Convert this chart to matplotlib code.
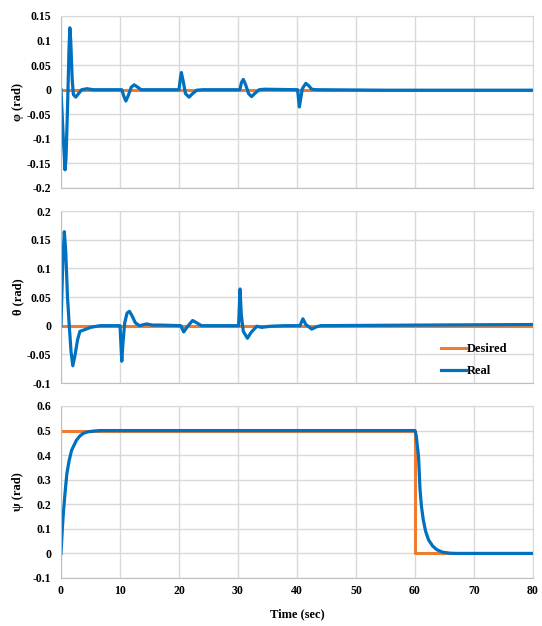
import matplotlib
matplotlib.use('Agg')
import matplotlib.pyplot as plt

plt.rcParams['font.family'] = ['Liberation Serif', 'DejaVu Serif']
plt.rcParams['font.weight'] = 'bold'

# phi (roll) response
phi_t = [0, 0.35, 0.68, 0.85, 1.1, 1.35, 1.5, 1.65, 1.9, 2.1, 2.5, 2.9, 3.5, 4.4, 5.5,
         10.3, 10.7, 11.0, 11.4, 11.9, 12.4, 12.9, 13.6,
         20.0, 20.2, 20.4, 20.7, 21.1, 21.7, 22.3, 23.0, 24.0,
         30.3, 30.6, 30.9, 31.3, 31.8, 32.3, 32.9, 33.6, 34.5,
         40.1, 40.25, 40.4, 40.6, 40.9, 41.5, 42.0, 42.5, 43.3,
         55, 80]
phi_real = [0, -0.09, -0.163, -0.14, -0.04, 0.08, 0.126, 0.10, 0.02, -0.010, -0.015, -0.009, 0.0, 0.002, 0.0,
            0.0, -0.015, -0.023, -0.012, 0.005, 0.010, 0.006, 0.0,
            0.0, 0.02, 0.035, 0.018, -0.008, -0.015, -0.008, -0.001, 0.0,
            0.0, 0.015, 0.021, 0.010, -0.008, -0.014, -0.007, 0.0, 0.001,
            0.0, -0.018, -0.035, -0.02, 0.002, 0.013, 0.008, 0.001, 0.0,
            -0.001, -0.001]

# theta (pitch) response
theta_t = [0, 0.3, 0.56, 0.8, 1.1, 1.4, 1.7, 2.0, 2.4, 2.8, 3.2, 4.0, 5.0, 6.6,
           10.0, 10.15, 10.3, 10.5, 10.8, 11.2, 11.6, 12.0, 12.6, 13.3, 14.5, 15.5, 17.0,
           20.3, 20.8, 21.4, 22.3, 23.0, 23.8,
           30.1, 30.35, 30.55, 30.9, 31.6, 32.2, 33.2, 34.0, 35.5, 38.0,
           40.5, 41.0, 41.5, 42.5, 43.3, 44.0,
           60, 80]
theta_real = [0, 0.11, 0.164, 0.13, 0.05, 0.0, -0.045, -0.070, -0.05, -0.025, -0.010, -0.007, -0.003, 0.0,
              0.0, -0.03, -0.062, -0.03, 0.005, 0.022, 0.025, 0.018, 0.005, 0.0, 0.003, 0.001, 0.001,
              0.0, -0.011, -0.002, 0.009, 0.005, 0.0,
              0.0, 0.064, 0.02, -0.01, -0.022, -0.012, -0.001, -0.003, -0.001, 0.0,
              0.0, 0.012, 0.002, -0.006, -0.002, 0.0,
              0.001, 0.002]

# psi (yaw) response
psi_t = [0, 0.2, 0.4, 0.7, 1.0, 1.4, 1.8, 2.1, 2.6, 3.2, 3.8, 4.6, 5.5, 6.6,
         60.0, 60.2, 60.6, 60.85, 61.1, 61.4, 61.8, 62.3, 63.0, 63.7, 64.7, 65.9, 67.0, 80]
psi_real = [0, 0.09, 0.165, 0.25, 0.326, 0.38, 0.42, 0.435, 0.46, 0.478, 0.489, 0.495, 0.498, 0.5,
            0.5, 0.48, 0.394, 0.26, 0.19, 0.137, 0.09, 0.055, 0.03, 0.015, 0.005, 0.001, 0.0, 0.0]
psi_des_t = [0, 60, 60, 80]
psi_des = [0.5, 0.5, 0, 0]

zero_t = [0, 80]
zero_des = [0, 0]

orange = '#ED7D31'
blue = '#0070C0'
grid_c = '#D9D9D9'

fig = plt.figure(figsize=(5.42, 6.26), dpi=100)
left, width, height = 61 / 542, 472 / 542, 172 / 626
bottoms = [1 - 188 / 626, 1 - 383 / 626, 1 - 578 / 626]

panels = [
    (phi_t, phi_real, zero_t, zero_des, (-0.2, 0.15), [-0.2, -0.15, -0.1, -0.05, 0, 0.05, 0.1, 0.15],
     ['-0.2', '-0.15', '-0.1', '-0.05', '0', '0.05', '0.1', '0.15'], 'φ (rad)'),
    (theta_t, theta_real, zero_t, zero_des, (-0.1, 0.2), [-0.1, -0.05, 0, 0.05, 0.1, 0.15, 0.2],
     ['-0.1', '-0.05', '0', '0.05', '0.1', '0.15', '0.2'], 'θ (rad)'),
    (psi_t, psi_real, psi_des_t, psi_des, (-0.1, 0.6), [-0.1, 0, 0.1, 0.2, 0.3, 0.4, 0.5, 0.6],
     ['-0.1', '0', '0.1', '0.2', '0.3', '0.4', '0.5', '0.6'], 'ψ (rad)'),
]

axes = []
for i, (t, real, dt, des, ylim, yt, ytl, ylab) in enumerate(panels):
    ax = fig.add_axes([left, bottoms[i], width, height])
    ax.plot(dt, des, color=orange, lw=2.2, label='Desired', solid_joinstyle='round')
    ax.plot(t, real, color=blue, lw=2.3, label='Real', solid_joinstyle='round')
    ax.set_xlim(0, 80)
    ax.set_ylim(*ylim)
    ax.set_xticks(range(0, 81, 10))
    ax.set_yticks(yt)
    ax.set_yticklabels(ytl)
    ax.grid(True, color=grid_c, lw=1.0)
    ax.set_axisbelow(True)
    for s in ax.spines.values():
        s.set_color(grid_c)
    ax.spines['left'].set_color('#BFBFBF')
    ax.spines['bottom'].set_color('#BFBFBF')
    ax.tick_params(axis='y', length=0, labelsize=8.5, pad=7)
    ax.tick_params(axis='x', length=0, labelsize=8.5, pad=5)
    if i < 2:
        ax.tick_params(labelbottom=False)
    ax.set_ylabel(ylab, fontsize=9, fontweight='bold')
    ax.yaxis.set_label_coords(-0.078, 0.5)
    axes.append(ax)

axes[1].legend(loc='lower right', bbox_to_anchor=(0.97, -0.03), frameon=False, fontsize=9,
               handlelength=2.0, handletextpad=0.1, labelspacing=0.8)
axes[2].set_xlabel('Time (sec)', fontsize=9, fontweight='bold', labelpad=8)

fig.savefig('out.png', dpi=100)
